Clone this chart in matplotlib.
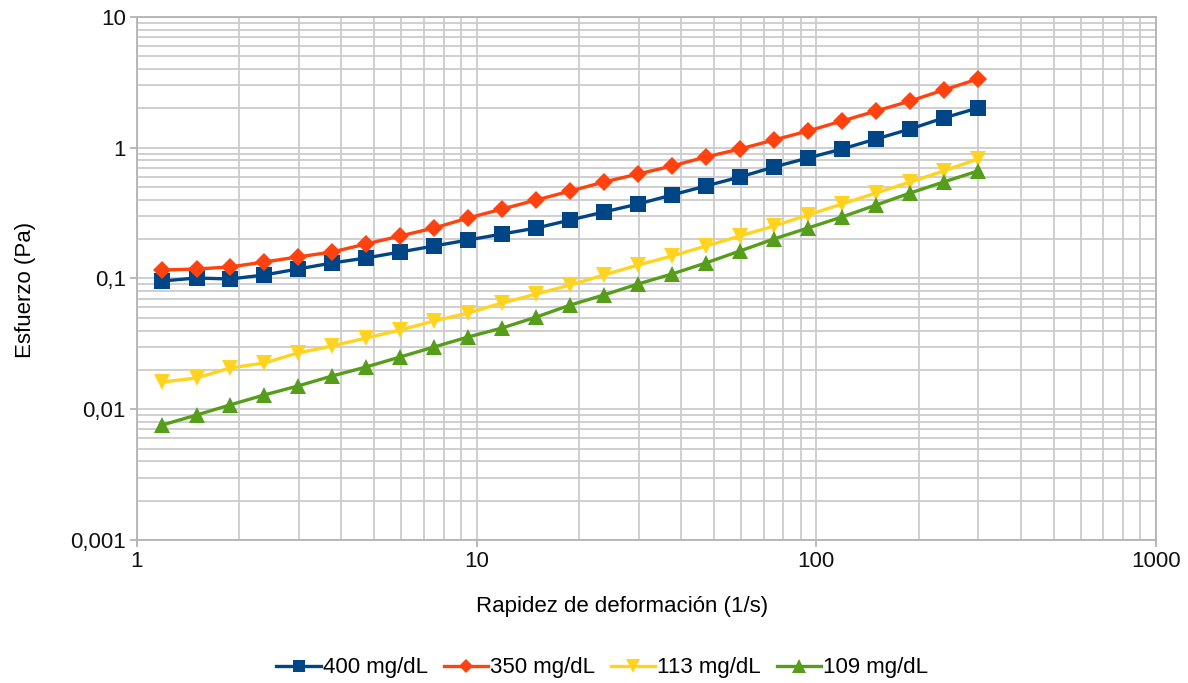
import numpy as np
import matplotlib.pyplot as plt
from matplotlib.ticker import FixedLocator, FixedFormatter, LogLocator, NullFormatter

plt.rcParams['font.family'] = ['Liberation Sans', 'DejaVu Sans']

# shear rate (1/s)
rapidez = [1.19, 1.5, 1.88, 2.37, 2.98, 3.76, 4.73, 5.96, 7.5, 9.45,
           11.9, 15.0, 18.9, 23.7, 29.9, 37.6, 47.3, 59.6, 75.0, 94.5,
           119, 150, 189, 237, 299]

# stress (Pa) for each glucose concentration
esf_400 = [0.0957, 0.1009, 0.0991, 0.1063, 0.1182, 0.1314, 0.1435, 0.1595, 0.1772, 0.197,
           0.2189, 0.2433, 0.2803, 0.3226, 0.3713, 0.4351, 0.5099, 0.5974, 0.7124, 0.835,
           0.978, 1.167, 1.391, 1.689, 2.014]
esf_350 = [0.1161, 0.1182, 0.1225, 0.1337, 0.1461, 0.1595, 0.1836, 0.2114, 0.2433, 0.2903,
           0.340, 0.3986, 0.4669, 0.547, 0.630, 0.725, 0.850, 0.978, 1.146, 1.343,
           1.602, 1.91, 2.278, 2.765, 3.357]
esf_113 = [0.01616, 0.01734, 0.02068, 0.02258, 0.02693, 0.03046, 0.03506, 0.04037, 0.0473, 0.05446,
           0.06496, 0.0761, 0.0892, 0.1063, 0.1268, 0.1486, 0.1772, 0.2114, 0.2521, 0.306,
           0.3713, 0.4507, 0.547, 0.664, 0.820]
esf_109 = [0.00758, 0.00903, 0.01078, 0.01285, 0.01506, 0.01796, 0.02104, 0.0251, 0.02993, 0.0357,
           0.04183, 0.05075, 0.0627, 0.0748, 0.0908, 0.1082, 0.1314, 0.1623, 0.2005, 0.2433,
           0.2954, 0.3648, 0.4507, 0.547, 0.664]

series = [
    (esf_400, '400 mg/dL', '#004586', 's', 11),
    (esf_350, '350 mg/dL', '#ff420e', 'D', 9.5),
    (esf_113, '113 mg/dL', '#ffd320', 'v', 12),
    (esf_109, '109 mg/dL', '#579d1c', '^', 12),
]

fs = 16

fig = plt.figure(figsize=(11.88, 6.83), dpi=100)
ax = fig.add_axes([0.1151, 0.2094, 0.8580, 0.7657])

for vals, lab, col, mk, ms in series:
    ax.plot(rapidez, vals, color=col, lw=2.4, marker=mk, markersize=ms,
            markeredgewidth=0, label=lab, zorder=3)

ax.set_xscale('log')
ax.set_yscale('log')
ax.set_xlim(1, 1000)
ax.set_ylim(0.001, 10)

ax.xaxis.set_major_locator(FixedLocator([1, 10, 100, 1000]))
ax.xaxis.set_major_formatter(FixedFormatter(['1', '10', '100', '1000']))
ax.yaxis.set_major_locator(FixedLocator([0.001, 0.01, 0.1, 1, 10]))
ax.yaxis.set_major_formatter(FixedFormatter(['0,001', '0,01', '0,1', '1', '10']))
ax.xaxis.set_minor_locator(LogLocator(base=10, subs=np.arange(2, 10)))
ax.yaxis.set_minor_locator(LogLocator(base=10, subs=np.arange(2, 10)))
ax.xaxis.set_minor_formatter(NullFormatter())
ax.yaxis.set_minor_formatter(NullFormatter())

ax.grid(True, which='both', color='#cccccc', lw=1.3, zorder=0)
ax.tick_params(which='major', length=5, width=1.3, color='#b3b3b3',
               labelsize=fs, labelcolor='#111111', pad=3)
ax.tick_params(which='minor', length=0)
for s in ax.spines.values():
    s.set_color('#b3b3b3')
    s.set_linewidth(1.3)

ax.set_xlabel('Rapidez de deformación (1/s)', fontsize=fs)
ax.set_ylabel('Esfuerzo (Pa)', fontsize=fs)
ax.xaxis.set_label_coords(0.476, -0.108)
ax.yaxis.set_label_coords(-0.099, 0.478)

fig.legend(loc='center', bbox_to_anchor=(0.507, 0.022), ncol=4, frameon=False,
           fontsize=fs, handlelength=2.0, handletextpad=0.1, columnspacing=0.7,
           markerscale=0.8)

fig.savefig('out.png', dpi=100)
